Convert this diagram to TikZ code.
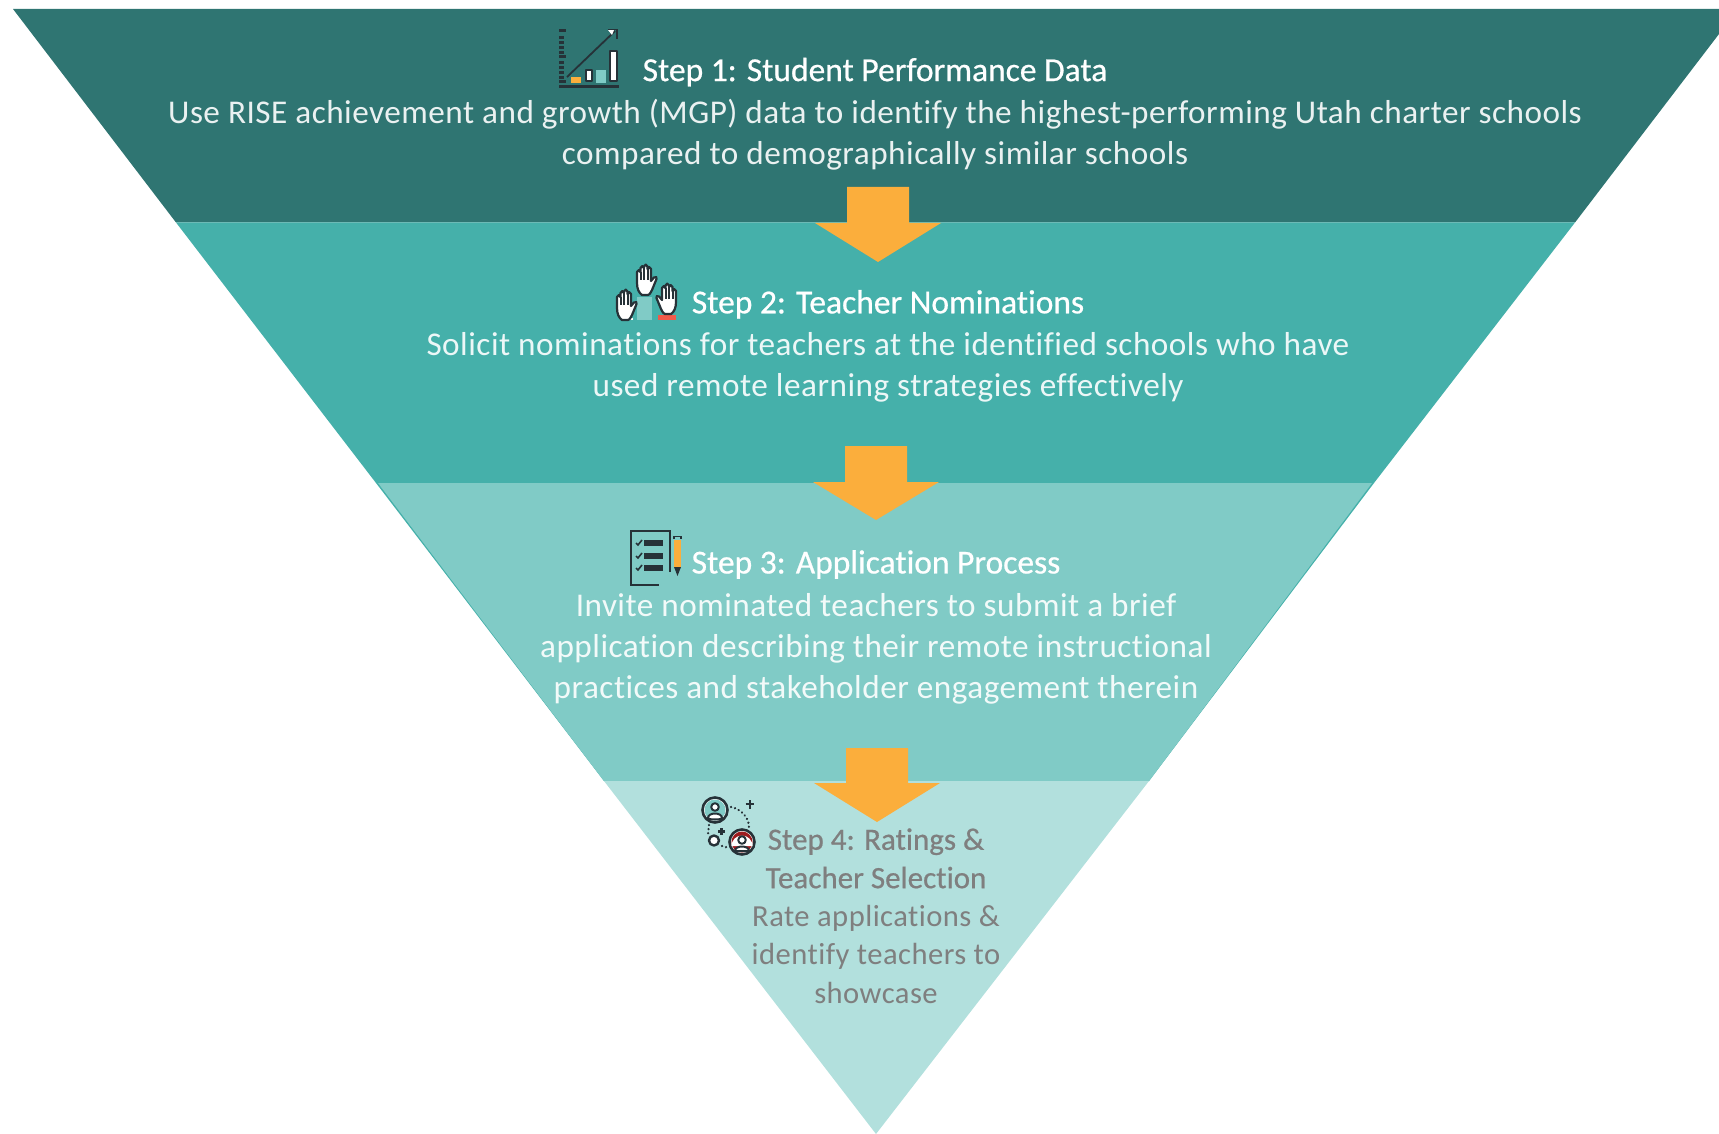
\documentclass[tikz,border=0pt]{standalone}
\usepackage{fontspec}
\setmainfont{Carlito}[LetterSpace=1.5,Ligatures=NoCommon]
\newfontfamily\ttlfont{Carlito}[FakeBold=0.6,Ligatures=NoCommon]
\definecolor{bandA}{HTML}{2F7572}
\definecolor{bandB}{HTML}{45B0AA}
\definecolor{bandC}{HTML}{80CBC6}
\definecolor{bandD}{HTML}{B2E0DD}
\definecolor{arrowC}{HTML}{FBAE3C}
\definecolor{iconC}{HTML}{263238}
\definecolor{greyT}{HTML}{7F7F7F}
\definecolor{redC}{HTML}{F15A4A}
\definecolor{darkred}{HTML}{9E1B1E}
\newcommand{\ttlA}[1]{{\color{white}\ttlfont\fontsize{33.5}{41}\selectfont #1}}
\newcommand{\ttlB}[1]{{\ttlfont\fontsize{31}{38.4}\selectfont #1}}
\tikzset{
  stepA/.style={align=center,inner sep=0pt,font=\fontsize{33.2}{41}\selectfont},
  stepB/.style={text=greyT,align=center,inner sep=0pt,font=\fontsize{30.6}{38.4}\selectfont},
  ic/.style={draw=iconC,line width=1.8pt,fill=white,line join=round}
}
\newcommand{\hand}[4]{%
  \begin{scope}[shift={(#1,#2)},xscale=#3,yscale=#4]
    \draw[ic,line width=2.2pt] (1,20) -- (1,9) .. controls (1,6.5) and (4.5,6.5) .. (4.5,9) -- (4.5,5) .. controls (4.5,2.5) and (8,2.5) .. (8,5) -- (8,3.5) .. controls (8,1) and (11.5,1) .. (11.5,3.5) -- (11.5,6) .. controls (11.5,3.5) and (15,3.5) .. (15,6) -- (15,18) -- (18,14.5) .. controls (19.5,13) and (21.5,14.5) .. (20.5,16) -- (16,27) .. controls (14,31) and (13,32) .. (12,32) -- (6,32) .. controls (3,30) and (1,26) .. (1,20) -- cycle;
    \draw[iconC,line width=2pt] (4.5,9) -- (4.5,17) (8,5) -- (8,17) (11.5,6) -- (11.5,17);
  \end{scope}}
\begin{document}
\begin{tikzpicture}[x=1pt,y=-1pt]
\useasboundingbox (0,0) rectangle (1719,1134);
% bands
\fill[bandA] (13,9) -- (1719,9) -- (1719,34) -- (1575,222.5) -- (176,222.5) -- cycle;
\fill[bandB] (176,222.5) -- (1575,222.5) -- (1374,483) -- (376,483) -- cycle;
\fill[bandB] (376,483) -- (1374,483) -- (1149,781) -- (604,781) -- cycle;
\fill[bandC] (378,483) -- (1372,483) -- (1149,781) -- (604,781) -- cycle;
\fill[bandD] (604,781) -- (1149,781) -- (876,1134) -- cycle;
% arrows
\fill[arrowC] (847,187) -- (909,187) -- (909,223) -- (941,223) -- (878,262) -- (815,223) -- (847,223) -- cycle;
\fill[arrowC] (845,446) -- (907,446) -- (907,482) -- (939,482) -- (876,520) -- (813,482) -- (845,482) -- cycle;
\fill[arrowC] (846,748) -- (908,748) -- (908,783) -- (940,783) -- (877,822) -- (814,783) -- (846,783) -- cycle;
% texts
\node[stepA,text=white!90!bandA] (s1) at (875,113.8) {\ttlA{Step 1: Student Performance Data}\\[1pt]Use RISE achievement and growth (MGP) data to identify the highest-performing Utah charter schools\\compared to demographically similar schools};
\node[stepA,text=white!90!bandB] (s2) at (888,345.9) {\ttlA{Step 2: Teacher Nominations}\\[0.7pt]Solicit nominations for teachers at the identified schools who have\\used remote learning strategies effectively};
\node[stepA,text=white!90!bandC] (s3) at (876,627) {\ttlA{Step 3: Application Process}\\[1.6pt]Invite nominated teachers to submit a brief\\application describing their remote instructional\\practices and stakeholder engagement therein};
\node[stepB] (s4) at (876,916) {\ttlB{Step 4: Ratings \&}\\\ttlB{Teacher Selection}\\Rate applications \&\\identify teachers to\\showcase};
% icon 1
\begin{scope}
 \foreach \y in {36,41,46,51,61,66,71,76} \fill[iconC] (559,\y) rectangle (564,\y+3);
 \fill[iconC] (559,29) rectangle (566,32); \fill[iconC] (559,55) rectangle (566,58); \fill[iconC] (559,80) rectangle (566,83);
 \fill[iconC] (559,85) rectangle (619,88);
 \fill[arrowC] (571,77) rectangle (581,83);
 \draw[ic,line width=2pt] (586,70) rectangle (592,81);
 \fill[bandC] (596,70) rectangle (606,83);
 \draw[ic,line width=2pt] (610,51) rectangle (617,81);
 \draw[iconC,line width=1.8pt] (567,77) -- (615,31);
 \fill[white] (608,30) -- (614,30) -- (612,35) -- cycle;
 \draw[iconC,line width=1.8pt] (608,29.5) -- (617,29.5) -- (617,39);
\end{scope}
% icon 2
\fill[bandC] (637,297) rectangle (652,320);
\fill[white] (622,318) rectangle (633,320);
\fill[redC] (658,315) rectangle (676,320);
\hand{636}{263}{1}{1}
\hand{616}{288}{1}{1}
\hand{677}{282}{-1}{1}
% icon 3
\begin{scope}
 \draw[iconC,line width=2pt] (670,572) -- (670,531) -- (631,531) -- (631,585) -- (659,585);
 \fill[iconC] (644,540) rectangle (663,546);
 \fill[iconC] (644,553) rectangle (663,559);
 \fill[iconC] (644,565) rectangle (663,571);
 \foreach \y in {543,556,568} \draw[iconC,line width=1.6pt] (636,\y) -- (638,\y+2) -- (642,\y-3);
 \fill[arrowC] (674,540) rectangle (681,567);
 \fill[iconC] (674,567) -- (681,567) -- (677.5,576) -- cycle;
 \draw[iconC,line width=1.6pt] (674,539) -- (674,536.5) -- (681,536.5) -- (681,539);
\end{scope}
% icon 4
\draw[iconC,line width=2.4pt,dash pattern=on 0.1pt off 4pt,line cap=round] (731,807) .. controls (741,809) and (750,818) .. (749,829);
\draw[iconC,line width=2.4pt,dash pattern=on 0.1pt off 4pt,line cap=round] (709,825) -- (708,834);
\draw[iconC,line width=2.4pt,dash pattern=on 0.1pt off 4pt,line cap=round] (722,846) -- (729,848);
\draw[ic,line width=2.6pt] (715,810) circle (12.5);
\fill[bandC] (715,810) circle (10.5);
\draw[ic,line width=2pt] (715,807) circle (3.8);
\draw[ic,fill=white,line width=2pt] (708,818) .. controls (708,812) and (722,812) .. (722,818) .. controls (722,820) and (708,820) .. (708,818) -- cycle;
\draw[ic,line width=2.4pt] (714,840.5) circle (5);
\draw[ic,line width=2.6pt] (742,842) circle (12.5);
\fill[darkred] (742,842) circle (10.5);
\fill[white] (731.5,846) -- (752.5,846) arc[start angle=0,end angle=-180,radius=10.5] -- cycle;
\draw[ic,line width=2pt] (742,840) circle (3.8);
\draw[ic,line width=2pt] (735,851) .. controls (735,845) and (749,845) .. (749,851) -- cycle;
\draw[iconC,line width=2.2pt] (750,800) -- (750,808.5) (745.7,804.2) -- (754.3,804.2);
\draw[iconC,line width=2.2pt] (721.5,828) -- (721.5,835) (718,831.5) -- (725,831.5);
\end{tikzpicture}
\end{document}
